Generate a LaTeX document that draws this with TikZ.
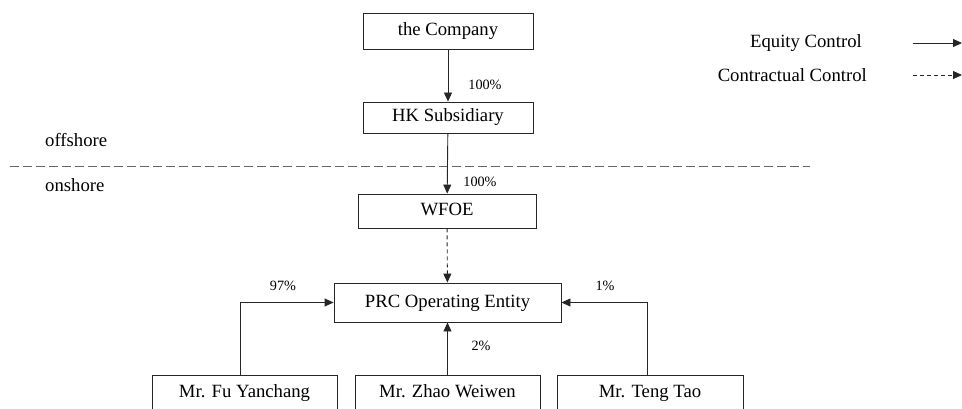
\documentclass[tikz,border=0pt]{standalone}
\usepackage{fontspec}
\setmainfont{Liberation Serif}
\usetikzlibrary{arrows.meta}
\begin{document}
\begin{tikzpicture}[x=1pt,y=-1pt,
  entity/.style={draw=black!85,line width=0.9pt,rectangle,inner sep=0pt,
    text height=13pt,text depth=4pt,
    font=\fontsize{18.7}{22}\selectfont},
  pct/.style={font=\fontsize{14.2}{17}\selectfont,inner sep=0pt},
  side/.style={font=\fontsize{18.7}{22}\selectfont,inner sep=0pt},
  tip/.style={-{Triangle[length=9pt,width=8pt]}},
  equity/.style={tip,line width=0.9pt,draw=black!85},
  contract/.style={tip,line width=0.9pt,draw=black!85,dash pattern=on 4pt off 3pt}]
\useasboundingbox (0,0) rectangle (962,409);
\clip (0,0) rectangle (962,409);

% entities
\node[entity,minimum width=170pt,minimum height=36pt] (co)  at (448,31)    {the Company};
\node[entity,minimum width=170pt,minimum height=31pt] (hk)  at (448,117.5) {HK Subsidiary};
\node[entity,minimum width=178pt,minimum height=34pt] (wf)  at (447,211)   {WFOE};
\node[entity,minimum width=227pt,minimum height=39pt] (prc) at (447.5,302.5) {PRC Operating Entity};
\node[entity,minimum width=185pt,minimum height=36pt] (fu)   at (244.5,393) {Mr. Fu Yanchang};
\node[entity,minimum width=185pt,minimum height=36pt] (zhao) at (447.5,393) {Mr. Zhao Weiwen};
\node[entity,minimum width=186pt,minimum height=36pt] (teng) at (650,393)   {Mr. Teng Tao};

% offshore / onshore boundary
\coordinate (bl) at (10,167);
\coordinate (br) at (810,167);
\draw[black!60,line width=1pt,dash pattern=on 9pt off 4pt] (bl) -- (br);
\node[side,anchor=west] (off) at (45,140) {offshore};
\node[side,anchor=west] (on)  at (45,185) {onshore};

% ownership and control
\draw[equity] (co) -- (hk);
\draw[equity] (hk) -- (wf);
\draw[contract] (wf) -- (prc);
\draw[equity] ([xshift=-4.5pt]fu.north) |- (prc.west);
\draw[equity] (zhao.north) -- (prc.south);
\draw[equity] ([xshift=-3pt]teng.north) |- (prc.east);

\node[pct] (p1) at (485,85)  {100\%};
\node[pct] (p2) at (480,182) {100\%};
\node[pct] (p3) at (283,286) {97\%};
\node[pct] (p4) at (605,286) {1\%};
\node[pct] (p5) at (481,346) {2\%};

% legend
\node[side,anchor=east] (leq) at (862,43) {Equity Control};
\node[side,anchor=east] (lct) at (867,75) {Contractual Control};
\coordinate (e1) at (913,43);
\coordinate (e2) at (962,43);
\coordinate (c1) at (913,75);
\coordinate (c2) at (962,75);
\draw[equity] (e1) -- (e2);
\draw[contract] (c1) -- (c2);
\end{tikzpicture}
\end{document}
